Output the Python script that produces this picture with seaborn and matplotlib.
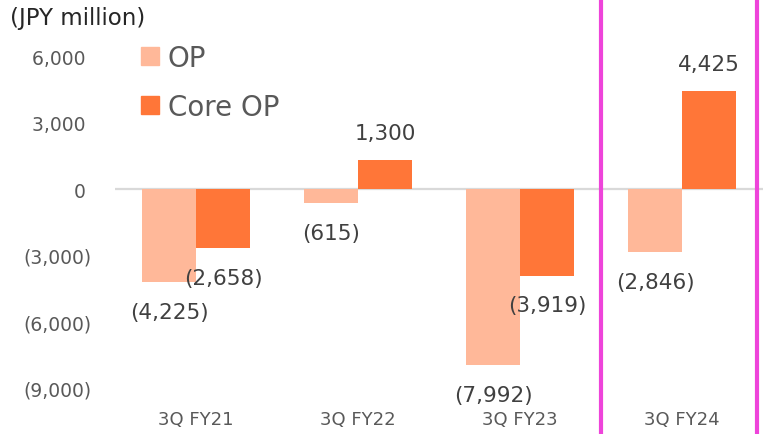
import matplotlib
matplotlib.use("Agg")
import matplotlib.pyplot as plt
from matplotlib.lines import Line2D
from matplotlib.ticker import FuncFormatter, FixedLocator
import matplotlib.transforms as mtransforms
import seaborn as sns
import pandas as pd

# Operating profit by period (JPY million)
periods = ["3Q FY21", "3Q FY22", "3Q FY23", "3Q FY24"]
op_values = [-4225, -615, -7992, -2846]
core_op_values = [-2658, 1300, -3919, 4425]
series_names = ["OP", "Core OP"]
series_colors = ["#FFB899", "#FF7638"]
y_ticks = [-9000, -6000, -3000, 0, 3000, 6000]

df = pd.DataFrame({
    "period": periods * 2,
    "value": op_values + core_op_values,
    "metric": [series_names[0]] * len(periods) + [series_names[1]] * len(periods),
})


def fmt_num(v):
    s = f"{abs(v):,.0f}"
    return f"({s})" if v < 0 else s


sns.set_style("white")
plt.rcParams["font.family"] = ["DejaVu Sans"]

fig = plt.figure(figsize=(7.7, 4.35), dpi=100)
ax = fig.add_axes([115 / 770, 0.081, 648 / 770, 0.837])

sns.barplot(data=df, x="period", y="value", hue="metric",
            palette=series_colors, saturation=1, width=0.667,
            order=periods, hue_order=series_names, ax=ax, legend=False,
            linewidth=0, edgecolor="none")

ax.set_xlim(-0.5, 3.5)
ax.set_ylim(-9500, 7000)
ax.axhline(0, color="#D9D9D9", lw=1.6, zorder=0)

for s in ax.spines.values():
    s.set_visible(False)

ax.yaxis.set_major_locator(FixedLocator(y_ticks))
ax.yaxis.set_major_formatter(FuncFormatter(
    lambda v, p: fmt_num(v) if v < 0 else f"{v:,.0f} "))
ax.tick_params(axis="y", length=0, pad=17, labelsize=13.5, labelcolor="#595959")
ax.tick_params(axis="x", length=0, pad=8, labelsize=13, labelcolor="#595959")
ax.set_xlabel("")
ax.set_ylabel("")

# value labels above / below each bar
for container, vals in zip(ax.containers, [op_values, core_op_values]):
    for bar, v in zip(container, vals):
        xc = bar.get_x() + bar.get_width() / 2
        off = 19.5 if v >= 0 else -21.5
        ax.annotate(fmt_num(v), xy=(xc, v), xytext=(0, off),
                    textcoords="offset points", ha="center", va="center",
                    fontsize=15.5, color="#404040")

# legend with square markers
handles = [Line2D([], [], marker="s", linestyle="none", markersize=12.5,
                  markerfacecolor=c, markeredgecolor=c) for c in series_colors]
ax.legend(handles, series_names, loc="upper left",
          bbox_to_anchor=(140 / 770, 1 - 45 / 435), bbox_transform=fig.transFigure,
          frameon=False, fontsize=20, labelcolor="#595959",
          handlelength=0.7, handletextpad=0.3, labelspacing=0.75,
          borderpad=0, borderaxespad=0)

fig.text(10 / 770, 1 - 18 / 435, "(JPY million)", fontsize=16.5,
         color="#262626", ha="left", va="center")

# highlight box edges around the latest period, full figure height
trans = mtransforms.blended_transform_factory(ax.transData, fig.transFigure)
for xv in [2.5, 3.463]:
    fig.add_artist(Line2D([xv, xv], [0, 1], transform=trans,
                          color="#EE44DA", lw=3))

fig.savefig("out.png", dpi=100)
